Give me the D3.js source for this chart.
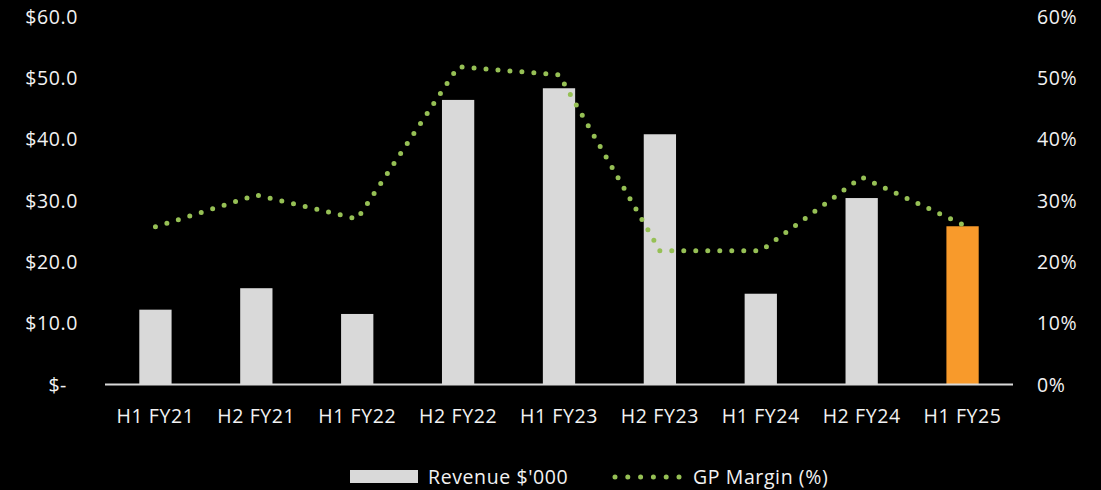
<!DOCTYPE html>
<html>
<head>
<meta charset="utf-8">
<script src="https://cdn.jsdelivr.net/npm/d3@7"></script>
<style>
  html, body { margin: 0; padding: 0; background: #000; }
  svg { display: block; }
  text { font-family: "Open Sans", Lato, sans-serif; fill: #f2f2f2; letter-spacing: 0.6px; }
</style>
</head>
<body>
<svg id="chart" width="1101" height="490"></svg>
<script>
// Half-year periods
const periods = ["H1 FY21", "H2 FY21", "H1 FY22", "H2 FY22", "H1 FY23", "H2 FY23", "H1 FY24", "H2 FY24", "H1 FY25"];
// Revenue in $'000
const revenue = [12.2, 15.7, 11.5, 46.4, 48.3, 40.8, 14.8, 30.4, 25.8];
// Gross profit margin, %
const gpMargin = [25.7, 30.9, 27.0, 51.8, 50.5, 21.8, 21.8, 33.8, 26.1];
// Axis ticks
const revenueTicks = [0, 10, 20, 30, 40, 50, 60];
const marginTicks = [0, 10, 20, 30, 40, 50, 60];

const svg = d3.select("#chart");
const margin = { left: 105, right: 88, top: 16.5, bottom: 105.5 };
const W = 1101, H = 490;
const plotL = margin.left, plotR = W - margin.right;
const plotT = margin.top, plotB = H - margin.bottom;
const fontSize = "19.5px";

const x = d3.scaleBand().domain(periods).range([plotL, plotR]).paddingInner(0.68).paddingOuter(0.34);
const yL = d3.scaleLinear().domain([0, 60]).range([plotB, plotT]);
const yR = d3.scaleLinear().domain([0, 60]).range([plotB, plotT]);

const barColor = "#d9d9d9", lastColor = "#f89a2b", lineColor = "#96c055";

// Bars
svg.append("g").selectAll("rect").data(revenue).join("rect")
  .attr("x", (d, i) => x(periods[i]))
  .attr("width", x.bandwidth())
  .attr("y", d => yL(d))
  .attr("height", d => yL(0) - yL(d))
  .attr("fill", (d, i) => i === periods.length - 1 ? lastColor : barColor);

// Baseline
svg.append("line")
  .attr("x1", plotL).attr("x2", plotR)
  .attr("y1", yL(0)).attr("y2", yL(0))
  .attr("stroke", "#d9d9d9").attr("stroke-width", 2);

// GP margin dotted line
const line = d3.line()
  .x((d, i) => x(periods[i]) + x.bandwidth() / 2)
  .y(d => yR(d));
svg.append("path").datum(gpMargin)
  .attr("d", line)
  .attr("fill", "none")
  .attr("stroke", lineColor)
  .attr("stroke-width", 5)
  .attr("stroke-linecap", "round")
  .attr("stroke-dasharray", "0 12");

// Left axis labels
const leftAxis = d3.axisLeft(yL).tickValues(revenueTicks)
  .tickSize(0).tickPadding(0)
  .tickFormat(d => d === 0 ? "$-" : "$" + d3.format(".1f")(d));
const gl = svg.append("g").attr("transform", `translate(78,0)`).call(leftAxis);
gl.select(".domain").remove();
gl.selectAll("text").style("font-size", fontSize).attr("dy", "0.35em");
gl.selectAll(".tick").filter(d => d === 0).select("text").attr("x", -11);

// Right axis labels
const rightAxis = d3.axisRight(yR).tickValues(marginTicks)
  .tickSize(0).tickPadding(0)
  .tickFormat(d => d + "%");
const gr = svg.append("g").attr("transform", `translate(1037,0)`).call(rightAxis);
gr.select(".domain").remove();
gr.selectAll("text").style("font-size", fontSize).attr("dy", "0.35em");

// Category labels
const bottomAxis = d3.axisBottom(x).tickSize(0).tickPadding(0);
const gb = svg.append("g").attr("transform", `translate(0,${plotB + 31.5})`).call(bottomAxis);
gb.select(".domain").remove();
gb.selectAll("text").style("font-size", fontSize).attr("dy", "0.35em");

// Legend
const leg = svg.append("g");
leg.append("rect").attr("x", 350).attr("y", 470).attr("width", 68).attr("height", 13).attr("fill", barColor);
leg.append("text").attr("x", 428).attr("y", 477).attr("dy", "0.35em").style("font-size", fontSize).text("Revenue $'000");
leg.append("line").attr("x1", 615).attr("x2", 680).attr("y1", 477).attr("y2", 477)
  .attr("stroke", lineColor).attr("stroke-width", 5)
  .attr("stroke-linecap", "round").attr("stroke-dasharray", "0 12.8");
leg.append("text").attr("x", 693).attr("y", 477).attr("dy", "0.35em").style("font-size", fontSize).text("GP Margin (%)");
</script>
</body>
</html>
